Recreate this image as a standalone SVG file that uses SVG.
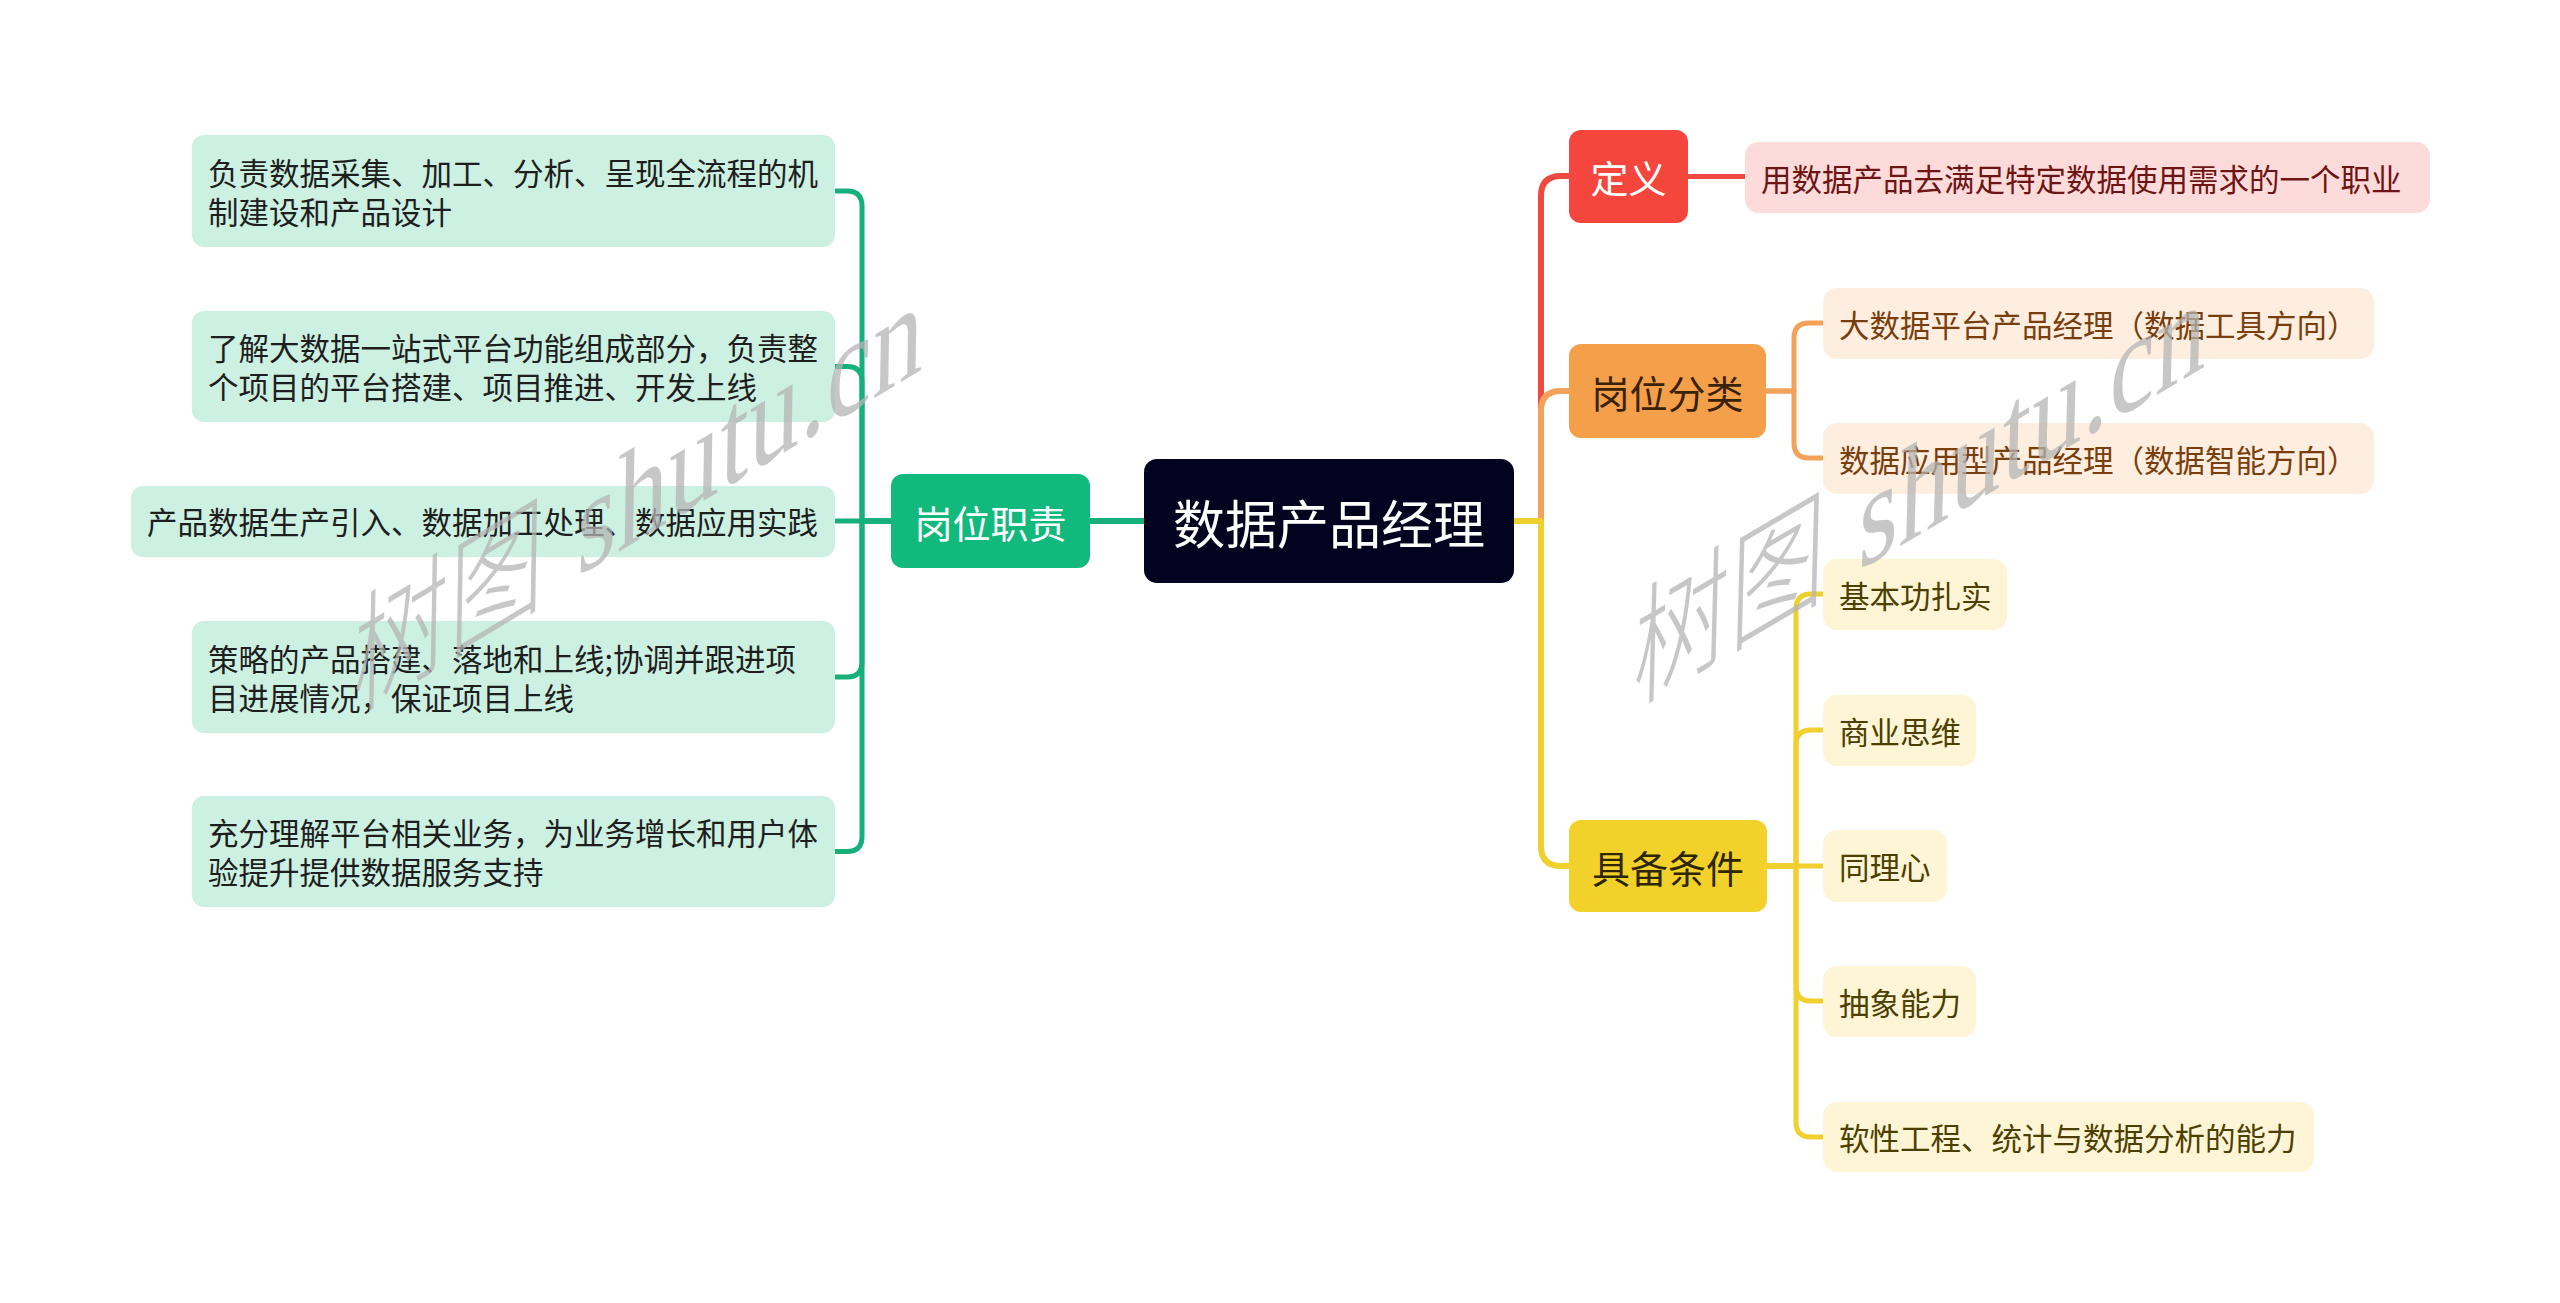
<svg xmlns="http://www.w3.org/2000/svg" width="2560" height="1303" viewBox="0 0 2560 1303">
<style>
text{font-family:"Noto Sans CJK SC","Noto Sans",sans-serif;dominant-baseline:central}
.leaf{font-size:30.5px}
.l1{font-size:38px;text-anchor:middle}
.c{fill:none;stroke-linecap:round;stroke-linejoin:round}
.g{stroke:#17b07a}
.r{stroke:#ee4a3f}
.o{stroke:#f2a259}
.y{stroke:#efd02e}
.wm text{fill:#b4b4b4;fill-opacity:0.75;dominant-baseline:alphabetic}
.wm .cjk{font-family:"Noto Sans CJK SC",serif;font-size:112px;font-weight:300}
.wm .lat{font-family:"Liberation Serif",serif;font-size:118px;letter-spacing:1px}
</style>
<rect width="2560" height="1303" fill="#ffffff"/>
<g id="connectors">
<path class="c g" stroke-width="6" d="M1145 521 H1090"/>
<path class="c g" stroke-width="5" d="M891 521 H862 V206 Q862 191 847 191 H835"/>
<path class="c g" stroke-width="5" d="M891 521 H862 V381.5 Q862 366.5 847 366.5 H835"/>
<path class="c g" stroke-width="5" d="M891 521 H835"/>
<path class="c g" stroke-width="5" d="M891 521 H862 V662 Q862 677 847 677 H835"/>
<path class="c g" stroke-width="5" d="M891 521 H862 V836.5 Q862 851.5 847 851.5 H835"/>
<path class="c r" stroke-width="6" d="M1514 521 H1541 V196 Q1541 176 1561 176 H1569"/>
<path class="c o" stroke-width="6" d="M1514 521 H1541 V411 Q1541 391 1561 391 H1569"/>
<path class="c y" stroke-width="6" d="M1514 521 H1541 V846 Q1541 866 1561 866 H1569"/>
<path class="c r" stroke-width="5" d="M1688 176.5 H1745"/>
<path class="c o" stroke-width="5" d="M1766 391 H1794 V338 Q1794 323 1809 323 H1823"/>
<path class="c o" stroke-width="5" d="M1766 391 H1794 V443 Q1794 458 1809 458 H1823"/>
<path class="c y" stroke-width="5" d="M1767 866 H1796 V609 Q1796 594 1811 594 H1823"/>
<path class="c y" stroke-width="5" d="M1767 866 H1796 V745 Q1796 730 1811 730 H1823"/>
<path class="c y" stroke-width="5" d="M1767 866 H1823"/>
<path class="c y" stroke-width="5" d="M1767 866 H1796 V986 Q1796 1001 1811 1001 H1823"/>
<path class="c y" stroke-width="5" d="M1767 866 H1796 V1122 Q1796 1137 1811 1137 H1823"/>
</g>
<g id="root">
<rect x="1144" y="459" width="370" height="124" rx="13" fill="#03031f"/>
<text x="1329" y="521" font-size="52" fill="#ffffff" text-anchor="middle">数据产品经理</text>
</g>
<g id="n-duty">
<rect x="891" y="474" width="199" height="94" rx="12" fill="#12b97c"/>
<text class="l1" x="990.5" y="521" fill="#ffffff">岗位职责</text>
</g>
<g id="n-duty-1">
<rect x="192" y="135" width="643" height="112" rx="12" fill="#ccf0e1"/>
<text class="leaf" fill="#1e1e1e"><tspan x="208" y="171.5">负责数据采集、加工、分析、呈现全流程的机</tspan><tspan x="208" y="210.5">制建设和产品设计</tspan></text>
</g>
<g id="n-duty-2">
<rect x="192" y="311" width="643" height="111" rx="12" fill="#ccf0e1"/>
<text class="leaf" fill="#1e1e1e"><tspan x="208" y="347">了解大数据一站式平台功能组成部分，负责整</tspan><tspan x="208" y="386">个项目的平台搭建、项目推进、开发上线</tspan></text>
</g>
<g id="n-duty-3">
<rect x="131" y="486" width="704" height="71" rx="12" fill="#ccf0e1"/>
<text class="leaf" x="147" y="521" fill="#1e1e1e">产品数据生产引入、数据加工处理、数据应用实践</text>
</g>
<g id="n-duty-4">
<rect x="192" y="621" width="643" height="112" rx="12" fill="#ccf0e1"/>
<text class="leaf" fill="#1e1e1e"><tspan x="208" y="657.5">策略的产品搭建、落地和上线;协调并跟进项</tspan><tspan x="208" y="696.5">目进展情况，保证项目上线</tspan></text>
</g>
<g id="n-duty-5">
<rect x="192" y="796" width="643" height="111" rx="12" fill="#ccf0e1"/>
<text class="leaf" fill="#1e1e1e"><tspan x="208" y="832">充分理解平台相关业务，为业务增长和用户体</tspan><tspan x="208" y="871">验提升提供数据服务支持</tspan></text>
</g>
<g id="n-def">
<rect x="1569" y="130" width="119" height="93" rx="12" fill="#f4463d"/>
<text class="l1" x="1628.5" y="176.5" fill="#ffffff">定义</text>
</g>
<g id="n-def-1">
<rect x="1745" y="142" width="685" height="71" rx="14" fill="#fddbda"/>
<text class="leaf" x="1761" y="177.5" fill="#6e1414">用数据产品去满足特定数据使用需求的一个职业</text>
</g>
<g id="n-type">
<rect x="1569" y="344" width="197" height="94" rx="12" fill="#f49f4a"/>
<text class="l1" x="1667.5" y="391" fill="#3a2208">岗位分类</text>
</g>
<g id="n-type-1">
<rect x="1823" y="288" width="551" height="71" rx="14" fill="#fdeee0"/>
<text class="leaf" x="1839" y="323.5" fill="#7a3d0c">大数据平台产品经理（数据工具方向）</text>
</g>
<g id="n-type-2">
<rect x="1823" y="423" width="551" height="71" rx="14" fill="#fdeee0"/>
<text class="leaf" x="1839" y="458.5" fill="#7a3d0c">数据应用型产品经理（数据智能方向）</text>
</g>
<g id="n-req">
<rect x="1569" y="820" width="198" height="92" rx="12" fill="#f2d22a"/>
<text class="l1" x="1668" y="866" fill="#2e2600">具备条件</text>
</g>
<g id="n-req-1">
<rect x="1823" y="559" width="184" height="71" rx="14" fill="#fdf5d5"/>
<text class="leaf" x="1839" y="594.5" fill="#4d3f00">基本功扎实</text>
</g>
<g id="n-req-2">
<rect x="1823" y="695" width="153" height="71" rx="14" fill="#fdf5d5"/>
<text class="leaf" x="1839" y="730.5" fill="#4d3f00">商业思维</text>
</g>
<g id="n-req-3">
<rect x="1823" y="830" width="124" height="72" rx="14" fill="#fdf5d5"/>
<text class="leaf" x="1839" y="866" fill="#4d3f00">同理心</text>
</g>
<g id="n-req-4">
<rect x="1823" y="966" width="153" height="71" rx="14" fill="#fdf5d5"/>
<text class="leaf" x="1839" y="1001.5" fill="#4d3f00">抽象能力</text>
</g>
<g id="n-req-5">
<rect x="1823" y="1102" width="491" height="70" rx="14" fill="#fdf5d5"/>
<text class="leaf" x="1839" y="1137" fill="#4d3f00">软性工程、统计与数据分析的能力</text>
</g>
<g id="watermarks" class="wm">
<g transform="translate(352 712) rotate(-31) skewX(-32)">
<text class="cjk" x="0" y="0">树图</text>
<text class="lat" x="262" y="0">shutu.cn</text>
</g>
<g transform="translate(1632 704) rotate(-30.5) skewX(-32)">
<text class="cjk" x="0" y="0">树图</text>
<text class="lat" x="262" y="0">shutu.cn</text>
</g>
</g>
</svg>
